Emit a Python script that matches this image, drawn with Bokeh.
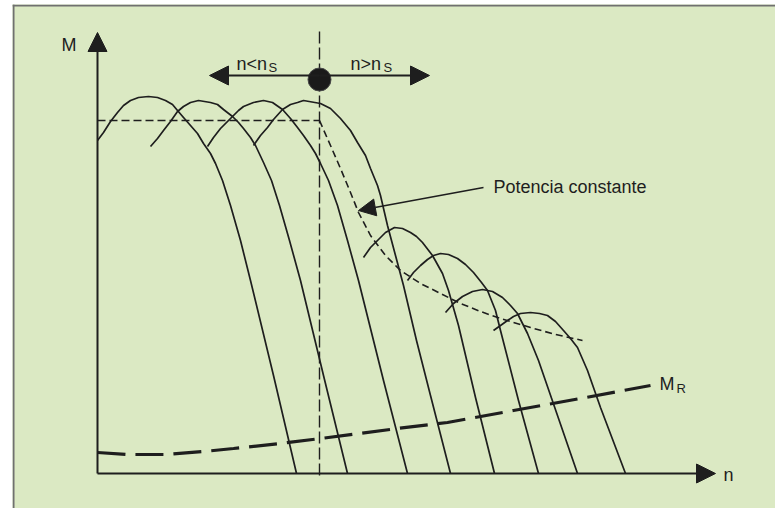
from bokeh.plotting import figure
from bokeh.models import Range1d, Arrow, NormalHead, Span
from bokeh.core.properties import value
from bokeh.embed import file_html
from bokeh.resources import INLINE

# ---- data (speed n and torque M, arbitrary units) ----
n_s = 222          # synchronous / base speed
M_rated = 353      # rated torque level

# constant-torque family (n < n_s)
n_c1 = [0, 6, 13, 20, 26, 33, 41, 51, 60, 68, 75, 80, 86, 93, 100, 106, 113, 118, 125, 133, 143, 153, 176, 199]
M_c1 = [333, 341, 352, 361, 368, 373, 376, 377, 376, 373, 369, 363, 356, 348, 340, 330, 320, 310, 293, 268, 233, 193, 98, 0]
n_c2 = [53, 60, 66, 73, 80, 86, 93, 101, 113, 120, 126, 135, 141, 146, 153, 158, 166, 174, 182, 192, 203, 226, 250]
M_c2 = [327, 335, 343, 352, 362, 367, 371, 373, 371, 369, 364, 357, 351, 345, 336, 328, 311, 293, 268, 233, 193, 98, 0]
n_c3 = [110, 116, 123, 130, 135, 141, 146, 156, 166, 175, 185, 193, 200, 206, 213, 218, 223, 231, 240, 250, 261, 286, 310]
M_c3 = [327, 336, 345, 352, 357, 363, 367, 371, 373, 371, 364, 355, 346, 338, 328, 320, 310, 293, 268, 233, 193, 93, 0]
n_c4 = [156, 163, 170, 176, 185, 193, 200, 206, 223, 233, 243, 253, 260, 268, 273, 280, 283, 290, 298, 306, 319, 333, 353]
M_c4 = [328, 338, 346, 354, 364, 369, 371, 373, 370, 365, 355, 343, 331, 318, 305, 288, 278, 248, 218, 188, 133, 78, 0]

# field-weakening family (n > n_s)
n_f1 = [266, 273, 280, 288, 297, 305, 313, 319, 325, 335, 345, 351, 361, 378, 397]
M_f1 = [216, 226, 233, 241, 246, 245, 241, 237, 231, 218, 200, 183, 148, 76, 0]
n_f2 = [310, 316, 323, 330, 336, 343, 351, 360, 368, 376, 384, 390, 398, 403, 421, 441]
M_f2 = [193, 201, 208, 214, 218, 220, 219, 215, 209, 201, 191, 183, 163, 143, 73, 0]
n_f3 = [348, 356, 365, 375, 385, 395, 405, 413, 420, 430, 441, 460, 480]
M_f3 = [161, 170, 177, 182, 184, 182, 176, 168, 160, 140, 113, 58, 0]
n_f4 = [396, 403, 410, 416, 423, 433, 442, 450, 458, 466, 473, 480, 490, 503, 528]
M_f4 = [143, 148, 153, 157, 160, 161, 160, 158, 152, 143, 135, 126, 103, 66, 0]

# constant power boundary
n_pc = [222, 233, 243, 253, 261, 273, 288, 303, 323, 343, 363, 383, 403, 433, 458, 485]
M_pc = [353, 328, 305, 281, 261, 238, 218, 203, 190, 180, 170, 162, 155, 146, 139, 133]

# load torque M_R
n_r = [0, 30, 68, 106, 136, 183, 223, 300, 350, 416, 483, 553]
M_r = [21, 19, 19, 22, 25, 30, 35, 45, 51, 63, 75, 88]

label_main = ["M", "n<n", "n>n", "Potencia constante", "M", "n"]
label_sub = ["S", "S", "R"]

# ---- styling ----
INK = "#1e1e1e"
BG = "#dbe9c3"
BORDER = "#707070"
FONT = value("Liberation Sans")

x0, x1 = -85, 678
y0, y1 = -35, 469

p = figure(width=775, height=508, x_range=Range1d(x0, x1), y_range=Range1d(y0, y1),
           output_backend="svg", toolbar_location=None,
           x_axis_location=None, y_axis_location=None,
           min_border_left=12, min_border_right=0, min_border_top=4, min_border_bottom=0,
           background_fill_color=BG, border_fill_color="white", outline_line_color=None)
p.grid.visible = False

# panel border (left and top)
p.add_layout(Span(location=x0 + 1, dimension="height", line_color=BORDER, line_width=2))
p.add_layout(Span(location=y1 - 1, dimension="width", line_color=BORDER, line_width=2))

# reference dashed lines
p.line([0, n_s], [M_rated, M_rated], line_color=INK, line_width=1.4, line_dash="8 4")
p.line([n_s, n_s], [-2, 442], line_color=INK, line_width=1.4, line_dash="12 4")

# torque curves
for xs, ys in [(n_c1, M_c1), (n_c2, M_c2), (n_c3, M_c3), (n_c4, M_c4),
               (n_f1, M_f1), (n_f2, M_f2), (n_f3, M_f3), (n_f4, M_f4)]:
    p.line(xs, ys, line_color=INK, line_width=1.7, line_join="round")

p.line(n_pc, M_pc, line_color=INK, line_width=1.6, line_dash="7 4")
p.line(n_r, M_r, line_color=INK, line_width=3.2, line_dash="28 10")

# axes with arrow heads
def arrow(xs, ys, xe, ye, size=19, lw=2):
    p.add_layout(Arrow(end=NormalHead(size=size, fill_color=INK, line_color=INK, line_width=1),
                       x_start=xs, y_start=ys, x_end=xe, y_end=ye,
                       line_color=INK, line_width=lw))

arrow(0, 0, 0, 441)
arrow(0, 0, 618, 0)
arrow(n_s, 398, 112, 398)
arrow(n_s, 398, 332, 398)
arrow(386, 286, 261, 263, size=17, lw=1.5)

p.scatter([n_s], [394], size=23, fill_color="#1a1a1a", line_color="#4a4a4a", line_width=1)

# labels
p.text(x=[-36, 139, 253, 396, 562, 626], y=[429, 410, 410, 287, 90, -1], text=label_main,
       text_font=FONT, text_font_size=value("18px"), text_color=INK,
       text_align="left", text_baseline="alphabetic")
p.text(x=[171, 286, 579], y=[406, 406, 85], text=label_sub,
       text_font=FONT, text_font_size=value("13px"), text_color=INK,
       text_align="left", text_baseline="alphabetic")

open("out.html", "w").write(file_html(p, INLINE))
